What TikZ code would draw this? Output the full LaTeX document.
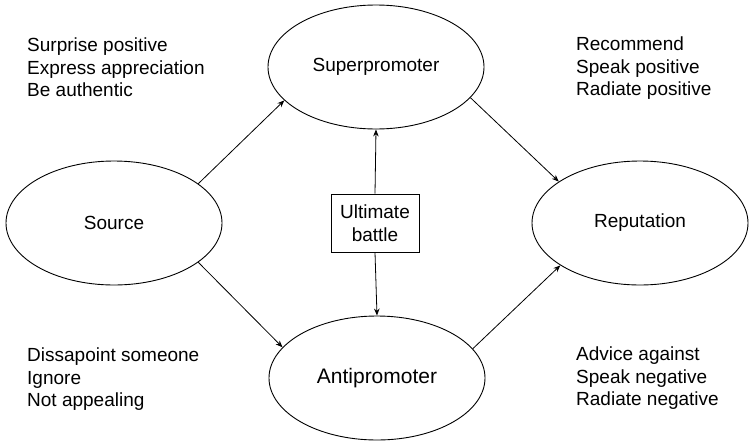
\documentclass[tikz,border=0pt]{standalone}
\usepackage{fontspec}
\setmainfont{Liberation Sans}
\usetikzlibrary{shapes.geometric,arrows.meta}
\begin{document}
\begin{tikzpicture}[x=1pt,y=-1pt,
  oval/.style={draw,ellipse,line width=0.9pt,minimum width=216pt,minimum height=124pt,inner sep=0pt,font=\fontsize{19}{22.5}\selectfont},
  battlebox/.style={draw,line width=0.9pt,minimum width=88pt,minimum height=58pt,inner sep=0pt,align=center,font=\fontsize{19}{22.5}\selectfont},
  note/.style={anchor=north west,inner sep=0pt,align=left,font=\fontsize{19}{22.5}\selectfont},
  conn/.style={line width=0.8pt,-{Stealth[length=7pt,width=5.5pt]}}]
\useasboundingbox (0,0) rectangle (749,442);
\node[oval] (super) at (376,67) {Superpromoter};
\node[oval,font=\fontsize{21}{24}\selectfont] (anti) at (377,378) {Antipromoter};
\node[oval] (source) at (114,223) {Source};
\node[oval] (rep) at (640,223) {Reputation};
\node[battlebox] (battle) at (375,223) {Ultimate\\battle};
\draw[conn] (source.25.7) -- (super.200);
\draw[conn] (source.-25.5) -- (anti.162.5);
\draw[conn] (super.-18.3) -- (rep.153.7);
\draw[conn] (anti.17) -- (rep.208.6);
\draw[conn] (battle.north) -- (super.south);
\draw[conn] (battle.south) -- (anti.north);
\node[note] (tl) at (27,38) {Surprise positive\\Express appreciation\\Be authentic};
\node[note] (tr) at (576,37) {Recommend\\Speak positive\\Radiate positive};
\node[note] (bl) at (27,348) {Dissapoint someone\\Ignore\\Not appealing};
\node[note] (br) at (576,347) {Advice against\\Speak negative\\Radiate negative};
\end{tikzpicture}
\end{document}
